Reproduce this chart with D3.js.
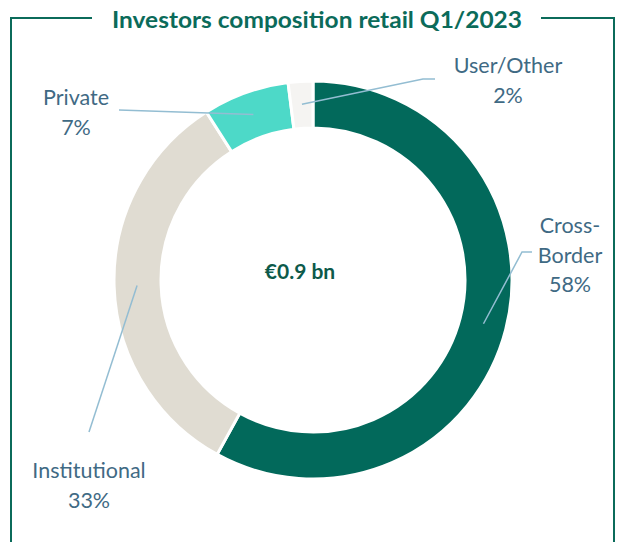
<!DOCTYPE html>
<html>
<head>
<meta charset="utf-8">
<script src="https://cdn.jsdelivr.net/npm/d3@7/dist/d3.min.js"></script>
<style>
    body { margin: 0; background: #fff; }
    text { font-family: Lato, "Open Sans", sans-serif; }
</style>
</head>
<body>
<svg width="618" height="542"></svg>
<script>
    // data
    var categories = ["Cross-Border", "Institutional", "Private", "User/Other"];
    var shares = [58, 33, 7, 2];
    var labelLines = [["Cross-", "Border", "58%"], ["Institutional", "33%"], ["Private", "7%"], ["User/Other", "2%"]];
    var colors = ["#02695b", "#e0dcd2", "#4dd9c8", "#f5f4f2"];
    var centerLabel = "\u20ac0.9 bn";
    var title = "Investors composition retail Q1/2023";

    var svg = d3.select("svg");
    var cx = 313, cy = 280, rOuter = 199, rInner = 152;
    var teal = "#0b6b5a";

    // frame around the chart
    var frame = svg.append("g").attr("fill", "none").attr("stroke", teal).attr("stroke-width", 2);
    frame.append("path").attr("d", "M11,542 V18 H92");
    frame.append("path").attr("d", "M541,18 H614 V542");

    svg.append("text")
        .attr("x", 112).attr("y", 28)
        .attr("textLength", 410).attr("lengthAdjust", "spacingAndGlyphs")
        .attr("font-size", 23.5).attr("font-weight", "bold")
        .attr("fill", teal)
        .text(title);

    var pie = d3.pie().sort(null).value(function(d) { return d; });
    var arc = d3.arc().innerRadius(rInner).outerRadius(rOuter);
    var arcs = pie(shares);

    var g = svg.append("g").attr("transform", "translate(" + cx + "," + cy + ")");

    g.selectAll(".slice")
        .data(arcs)
        .enter().append("path")
        .attr("class", "slice")
        .attr("d", arc)
        .attr("fill", function(d, i) { return colors[i]; })
        .attr("stroke", "#fff")
        .attr("stroke-width", 3);

    svg.append("text")
        .attr("x", 300).attr("y", 279)
        .attr("text-anchor", "middle")
        .attr("font-size", 21).attr("font-weight", "bold")
        .attr("fill", "#0d5a4a")
        .text(centerLabel);

    // label layout: text centre x, first baseline y (page coords), leader bend and end
    var labelLayout = [
        { x: 570, y: 233, bend: [522, 252], end: [532, 252] },
        { x: 89, y: 478, bend: [89, 432], end: [89, 432] },
        { x: 76, y: 105, bend: [119, 110], end: [119, 110] },
        { x: 508, y: 73, bend: [423, 79], end: [435, 79] }
    ];

    var leaderArc = d3.arc().innerRadius(176).outerRadius(176);

    arcs.forEach(function(d, i) {
        var c = leaderArc.centroid(d);
        var L = labelLayout[i];
        var pts = [[c[0] + cx, c[1] + cy], L.bend, L.end];
        svg.append("path")
            .attr("d", d3.line()(pts))
            .attr("fill", "none")
            .attr("stroke", "#93bdd2")
            .attr("stroke-width", 1.5);

        var t = svg.append("text")
            .attr("text-anchor", "middle")
            .attr("font-size", 21.5)
            .attr("fill", "#3f6a84");
        labelLines[i].forEach(function(line, k) {
            t.append("tspan").attr("x", L.x).attr("y", L.y + k * 29.5).text(line);
        });
    });
</script>
</body>
</html>
